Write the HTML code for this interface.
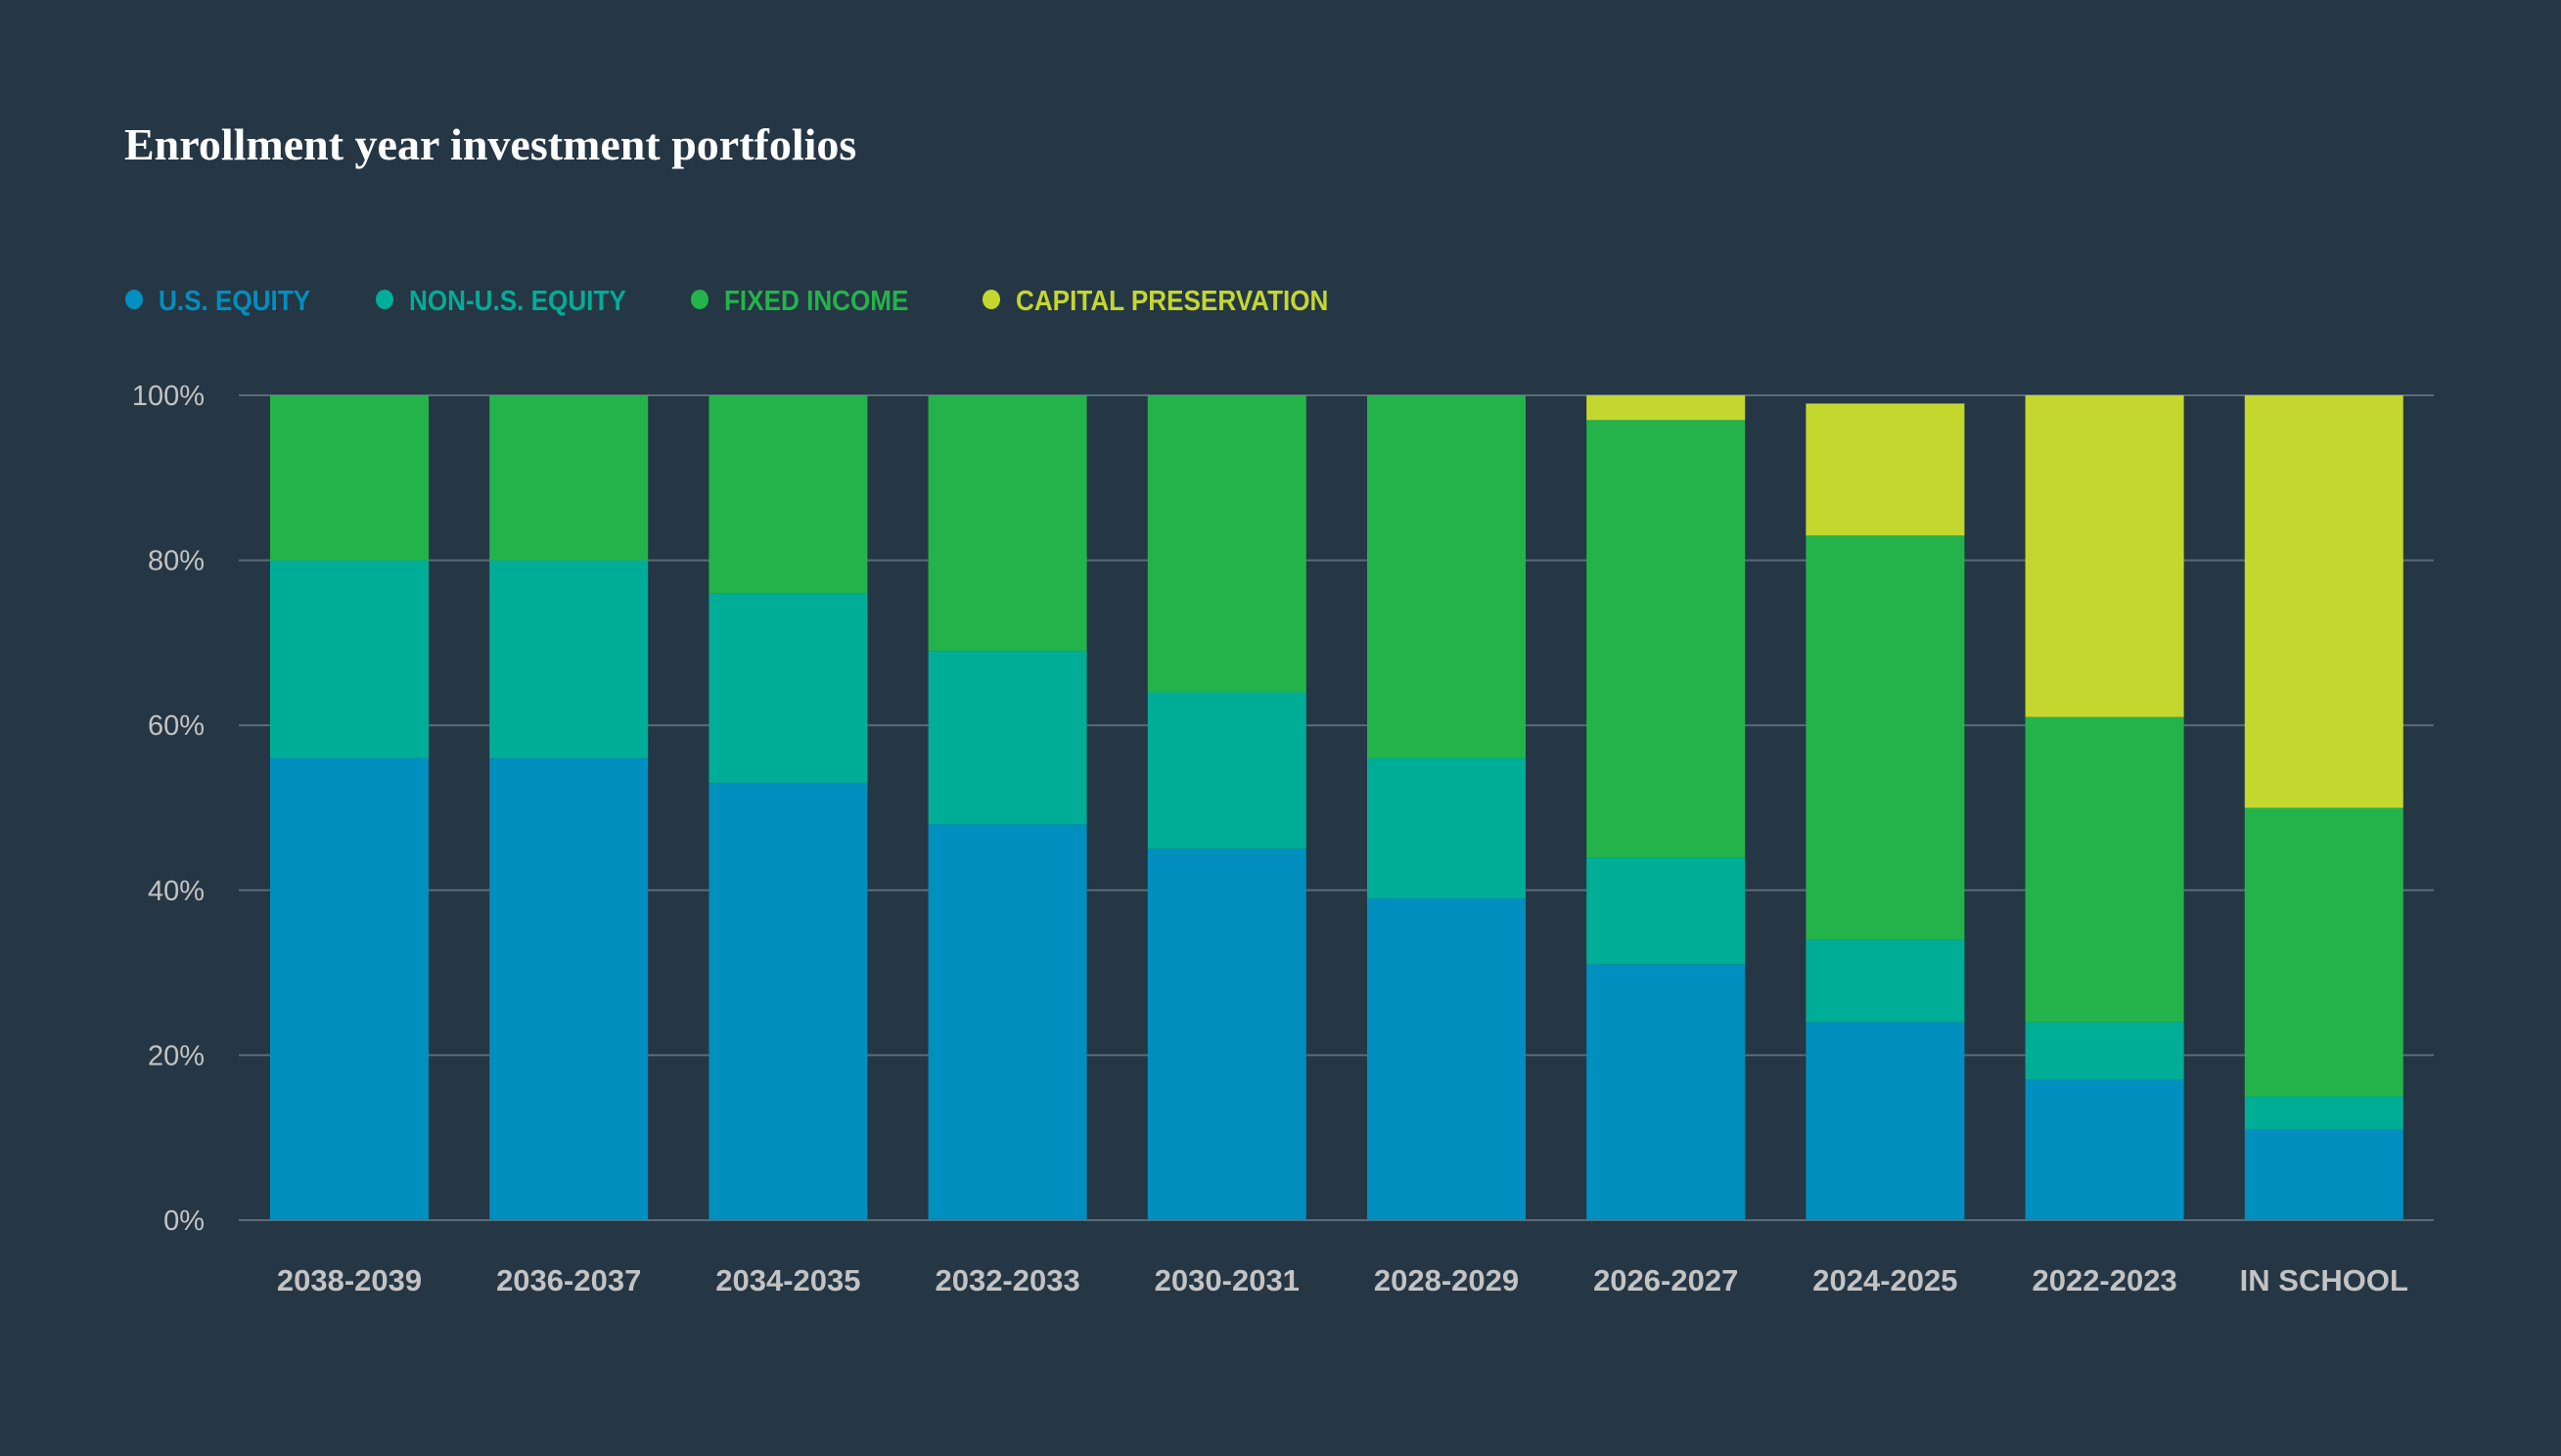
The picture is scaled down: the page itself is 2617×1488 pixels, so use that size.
<!DOCTYPE html>
<html><head><meta charset="utf-8"><style>
html,body{margin:0;padding:0;background:#253645;}
svg{display:block;}
</style></head><body>
<svg id="chart" width="2617" height="1488" viewBox="0 0 2617 1488" xmlns="http://www.w3.org/2000/svg">
<rect width="2617" height="1488" fill="#253645"/>
<text x="127" y="163" font-family="Liberation Serif, serif" font-weight="bold" font-size="46" fill="#ffffff">Enrollment year investment portfolios</text>
<g id="legend"></g>
<g id="grid"></g>
<g id="bars"></g>
<g id="xlabels"></g>
</svg>
<script>
const categories = ["2038-2039","2036-2037","2034-2035","2032-2033","2030-2031","2028-2029","2026-2027","2024-2025","2022-2023","IN SCHOOL"];
const usEquity = [56,56,53,48,45,39,31,24,17,11];
const nonUsEquity = [24,24,23,21,19,17,13,10,7,4];
const fixedIncome = [20,20,24,31,36,44,53,49,37,35];
const capitalPreservation = [0,0,0,0,0,0,3,16,39,50];
const yTicks = [0,20,40,60,80,100];
const seriesNames = ["U.S. EQUITY","NON-U.S. EQUITY","FIXED INCOME","CAPITAL PRESERVATION"];
const seriesKeys = ["us-equity","non-us-equity","fixed-income","capital-preservation"];

const NS = "http://www.w3.org/2000/svg";
const colors = ["#008fbe","#00ad96","#24b34b","#c4d72e"];
const plotL = 244, plotR = 2487, y0 = 1247, y100 = 404;
const firstC = 357, step = 224.2, barW = 162;
function y(v){ return y0 - (y0 - y100) * v / 100; }
function xc(i){ return firstC + step * i; }
function mk(tag, attrs, parent){ const e = document.createElementNS(NS, tag); for (const k in attrs) e.setAttribute(k, attrs[k]); parent.appendChild(e); return e; }

const grid = document.getElementById('grid');
yTicks.forEach(t => {
  const l = mk('line', {x1: plotL, x2: plotR, y1: y(t), y2: y(t), stroke: '#5c6b78', 'stroke-width': 2}, grid);
  
  
  const tx = mk('text', {x: 209, y: y(t) + 10, 'text-anchor': 'end', 'font-family': 'Liberation Sans, sans-serif', 'font-size': 29, fill: '#c3c3c3'}, grid);
  tx.textContent = t + '%';
  
  
});

const series = [usEquity, nonUsEquity, fixedIncome, capitalPreservation];
const bars = document.getElementById('bars');
categories.forEach((c, i) => {
  let cum = 0;
  series.forEach((s, k) => {
    const v = s[i];
    if (v > 0) {
      const r = mk('rect', {x: xc(i) - barW / 2, y: y(cum + v), width: barW, height: y(cum) - y(cum + v), fill: colors[k]}, bars);
      
      
    }
    cum += v;
  });
  const t = mk('text', {x: xc(i), y: 1319, 'text-anchor': 'middle', 'font-family': 'Liberation Sans, sans-serif', 'font-size': 31, 'font-weight': 'bold', fill: '#c3c3c3'}, document.getElementById('xlabels'));
  t.textContent = c;
  
  
});

const legend = document.getElementById('legend');
const lx = [137, 393, 715, 1013];
seriesNames.forEach((n, k) => {
  const g = mk('g', {}, legend);
  
  
  mk('ellipse', {cx: lx[k], cy: 306, rx: 9, ry: 10, fill: colors[k]}, g);
  const t = mk('text', {x: lx[k] + 25, y: 317, 'font-family': 'Liberation Sans, sans-serif', 'font-size': 29, 'font-weight': 'bold', fill: colors[k], transform: 'translate(' + (lx[k] + 25) + ',0) scale(0.9,1) translate(' + (-(lx[k] + 25)) + ',0)'}, g);
  t.textContent = n;
});
</script>
</body></html>
